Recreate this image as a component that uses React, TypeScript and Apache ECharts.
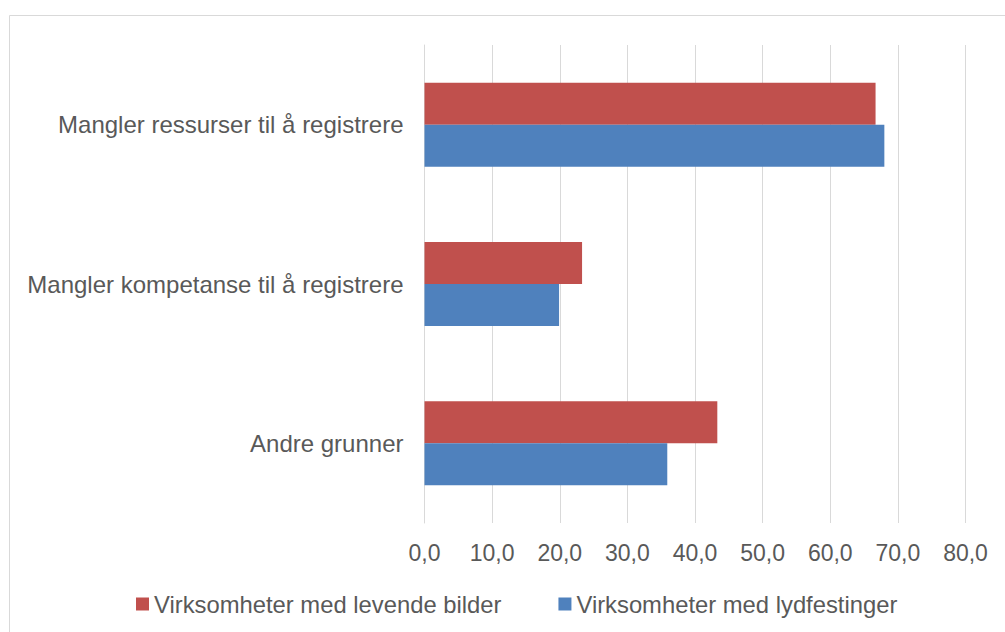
import React, { useEffect, useRef } from "react";
import * as echarts from "echarts";

const categories = [
  "Andre grunner",
  "Mangler kompetanse til å registrere",
  "Mangler ressurser til å registrere",
];
const seriesNames = ["Virksomheter med levende bilder", "Virksomheter med lydfestinger"];
const levendeBilder = [43.3, 23.3, 66.7];
const lydfestinger = [35.9, 19.9, 68.0];
const xTicks = { min: 0, max: 80, interval: 10 };

const TEXT = "#595959";
const FONT = "'Liberation Sans', Arial, sans-serif";

export default function App() {
  const ref = useRef<HTMLDivElement>(null);
  useEffect(() => {
    if (!ref.current) return;
    const chart = echarts.init(ref.current, undefined, { renderer: "svg" });
    chart.setOption({
      animation: false,
      backgroundColor: "#ffffff",
      textStyle: { fontFamily: FONT },
      graphic: [
        {
          type: "rect",
          shape: { x: 9.5, y: 15.5, width: 1100, height: 700 },
          style: { fill: "none", stroke: "#d9d9d9", lineWidth: 1 },
          silent: true,
          z: -1,
        },
      ],
      grid: { left: 424.5, right: 39.5, top: 45, bottom: 109, containLabel: false },
      legend: {
        data: [seriesNames[0], seriesNames[1]],
        left: 131,
        top: 587,
        padding: 5,
        icon: "rect",
        itemWidth: 13,
        itemHeight: 13,
        itemGap: 57,
        textStyle: { color: TEXT, fontSize: 23.8, fontFamily: FONT },
      },
      xAxis: {
        type: "value",
        min: xTicks.min,
        max: xTicks.max,
        interval: xTicks.interval,
        axisLine: { show: false },
        axisTick: { show: false },
        splitLine: { show: true, lineStyle: { color: "#d9d9d9", width: 1 } },
        axisLabel: {
          color: TEXT,
          fontSize: 23,
          fontFamily: FONT,
          margin: 18,
          formatter: (v: number) => v.toFixed(1).replace(".", ","),
        },
      },
      yAxis: {
        type: "category",
        data: categories,
        axisLine: { show: true, lineStyle: { color: "#d9d9d9", width: 1 } },
        axisTick: { show: false },
        axisLabel: { color: TEXT, fontSize: 24, fontFamily: FONT, margin: 21 },
      },
      series: [
        {
          name: seriesNames[0],
          type: "bar",
          data: levendeBilder,
          barWidth: 42,
          barGap: "0%",
          itemStyle: { color: "#c0504d" },
        },
        {
          name: seriesNames[1],
          type: "bar",
          data: lydfestinger,
          barWidth: 42,
          barGap: "0%",
          itemStyle: { color: "#4f81bd" },
        },
      ],
    });
    return () => chart.dispose();
  }, []);
  return (
    <div
      ref={ref}
      style={{ position: "fixed", left: 0, top: 0, width: 1005, height: 632 }}
    />
  );
}
